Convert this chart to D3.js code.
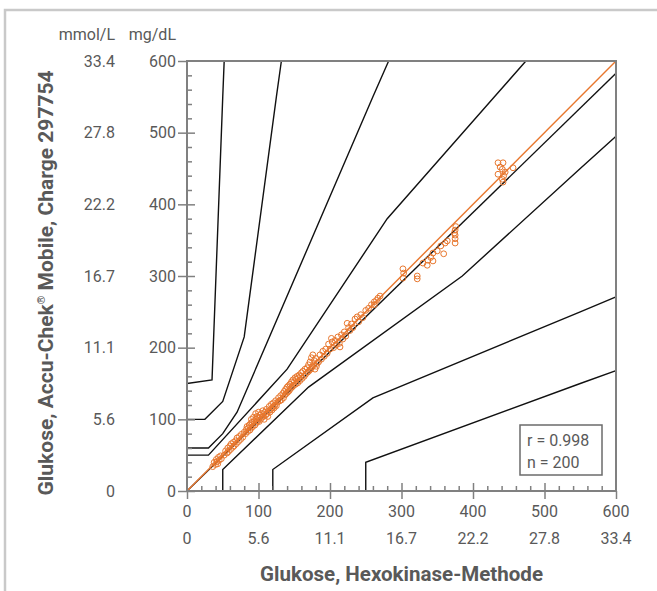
<!DOCTYPE html>
<html><head><meta charset="utf-8">
<script src="https://cdn.jsdelivr.net/npm/d3@7"></script>
<style>
html,body{margin:0;padding:0;background:#fff;}
text{font-family:Roboto,"Noto Sans",sans-serif;}
</style></head>
<body>
<svg id="c" width="657" height="591"></svg>
<script>
// ---- data ----
const majorTicks = [0, 100, 200, 300, 400, 500, 600];
const mgLabels = ["0", "100", "200", "300", "400", "500", "600"];
const mmolLabels = ["0", "5.6", "11.1", "16.7", "22.2", "27.8", "33.4"];

// reference (Hexokinase) values, mg/dL
const refValues = [
 36,38,40,41,42,44,45,47,48,43,
 52,54,56,57,58,60,61,62,64,65,66,68,69,70,72,73,75,76,78,80,
 82,83,84,85,86,87,88,89,90,90,91,92,93,94,95,96,96,97,98,99,
 100,100,101,102,103,104,105,106,107,108,109,110,111,112,113,114,115,116,117,118,
 119,120,121,122,123,124,125,127,128,130,
 131,132,134,135,136,137,138,139,140,141,142,143,144,145,146,147,148,149,150,151,
 152,153,154,155,156,157,158,159,160,161,162,164,165,166,168,169,170,171,172,173,
 174,175,176,177,178,179,180,181,182,184,
 186,188,190,192,194,196,198,200,202,203,205,207,209,211,213,214,216,218,220,222,
 224,226,228,230,232,235,238,240,243,246,250,254,258,262,267,
 302,302,303,322,322,336,337,341,344,344,359,361,364,375,375,375,375,376,374,330,
 350,355,270,262,265,
 435,442,441,435,443,441,442,456,438,445
];
// meter (Accu-Chek Mobile) values, mg/dL
const meterValues = [
 34,40,37,44,41,47,43,49,45,38,
 50,56,53,60,55,63,58,66,61,68,63,70,66,74,69,76,72,79,75,82,
 80,86,90,83,88,92,85,94,88,100,96,90,103,97,92,100,108,95,104,98,
 102,110,97,106,100,108,103,112,104,100,110,106,114,108,104,112,118,110,114,121,
 113,117,123,116,120,126,119,124,130,126,
 133,127,136,130,139,134,142,136,145,138,147,140,149,143,152,145,155,147,152,158,
 149,156,160,151,158,162,154,160,165,157,167,160,170,163,172,166,176,168,180,170,
 186,173,190,176,182,170,185,174,178,180,
 190,184,195,188,198,192,205,198,213,208,200,210,204,215,206,201,218,212,222,216,
 234,228,224,233,228,240,243,236,246,242,252,255,260,264,269,
 310,297,304,300,296,315,322,326,332,321,331,346,349,364,357,352,346,369,360,318,
 335,342,272,260,266,
 458,458,449,442,440,435,431,451,452,445
];

// error grid boundaries (reference, meter) in mg/dL
const gridAupper = [[0,50],[30,50],[140,170],[280,380],[430,550],[474,600]];
const gridAlower = [[50,0],[50,30],[170,145],[385,300],[550,450],[600,495]];
const gridBupper = [[0,60],[30,60],[50,80],[70,110],[260,550],[282,600]];
const gridBlower = [[120,0],[120,30],[260,130],[550,250],[600,271]];
const gridCupper = [[0,100],[25,100],[50,125],[80,215],[125,550],[132,600]];
const gridClower = [[250,0],[250,40],[550,150],[600,168]];
const gridDupper = [[0,150],[35,155],[50,550],[52,600]];
const identityLine = [[0,0],[600,600]];
const regressionLine = [[0,0],[600,583]];
const statsLines = ["r = 0.998", "n = 200"];

// ---- drawing ----
const svg = d3.select("#c");
const x = d3.scaleLinear().domain([0,600]).range([187,616]);
const y = d3.scaleLinear().domain([0,600]).range([491,61]);
const txt = "#595959", axisCol = "#808080", orange = "#e8772e";

// outer border
svg.append("rect").attr("x",5).attr("y",10).attr("width",700).attr("height",700)
  .attr("fill","none").attr("stroke","#c9c9c9").attr("stroke-width",2.5);

const line = d3.line().x(d=>x(d[0])).y(d=>y(d[1]));
const grids = [gridAupper,gridAlower,gridBupper,gridBlower,gridCupper,gridClower,gridDupper];
svg.append("g").selectAll("path").data(grids).join("path")
  .attr("d", line).attr("fill","none").attr("stroke","#111").attr("stroke-width",1.4);

svg.append("path").attr("d", line(regressionLine)).attr("fill","none")
  .attr("stroke","#111").attr("stroke-width",1.4);

// points
const pts = refValues.map((v,i)=>[v, meterValues[i]]);
svg.append("g").selectAll("circle").data(pts).join("circle")
  .attr("cx", d=>x(d[0])).attr("cy", d=>y(d[1])).attr("r", 2.9)
  .attr("fill","none").attr("stroke",orange).attr("stroke-width",1);

svg.append("path").attr("d", line(identityLine)).attr("fill","none")
  .attr("stroke",orange).attr("stroke-width",1.4);

// frame
svg.append("rect").attr("x",x(0)).attr("y",y(600)).attr("width",x(600)-x(0)).attr("height",y(0)-y(600))
  .attr("fill","none").attr("stroke",axisCol).attr("stroke-width",2);

// ticks
const minorTicks = d3.range(0,601,20).filter(v=>v%100!==0);
function tickStyle(g){ g.select(".domain").remove(); g.selectAll("line").attr("stroke",axisCol).attr("stroke-width",1.5); g.selectAll("text").remove(); }
svg.append("g").attr("transform",`translate(${x(0)},0)`)
  .call(d3.axisLeft(y).tickValues(majorTicks).tickSize(9)).call(tickStyle);
svg.append("g").attr("transform",`translate(${x(0)},0)`)
  .call(d3.axisRight(y).tickValues(majorTicks.slice(0,-1)).tickSize(8)).call(tickStyle);
svg.append("g").attr("transform",`translate(${x(0)},0)`)
  .call(d3.axisRight(y).tickValues(minorTicks).tickSize(5)).call(tickStyle);
svg.append("g").attr("transform",`translate(0,${y(0)})`)
  .call(d3.axisBottom(x).tickValues(majorTicks).tickSize(8)).call(tickStyle);
svg.append("g").attr("transform",`translate(0,${y(0)})`)
  .call(d3.axisTop(x).tickValues(majorTicks.slice(1,-1)).tickSize(8)).call(tickStyle);
svg.append("g").attr("transform",`translate(0,${y(0)})`)
  .call(d3.axisTop(x).tickValues(minorTicks).tickSize(5)).call(tickStyle);

// tick labels
const fs = "16px";
svg.append("g").selectAll("text").data(majorTicks).join("text")
  .attr("x",176).attr("y",d=>y(d)).attr("dy","0.36em").attr("text-anchor","end")
  .attr("font-size",fs).attr("fill",txt).text((d,i)=>mgLabels[i]);
svg.append("g").selectAll("text").data(majorTicks).join("text")
  .attr("x",115).attr("y",d=>y(d)).attr("dy","0.36em").attr("text-anchor","end")
  .attr("font-size",fs).attr("fill",txt).text((d,i)=>mmolLabels[i]);
svg.append("g").selectAll("text").data(majorTicks).join("text")
  .attr("x",d=>x(d)).attr("y",517).attr("text-anchor","middle")
  .attr("font-size",fs).attr("fill",txt).text((d,i)=>mgLabels[i]);
svg.append("g").selectAll("text").data(majorTicks).join("text")
  .attr("x",d=>x(d)).attr("y",544).attr("text-anchor","middle")
  .attr("font-size",fs).attr("fill",txt).text((d,i)=>mmolLabels[i]);

// unit headers
svg.append("text").attr("x",115).attr("y",40).attr("text-anchor","end").attr("font-size",fs).attr("fill",txt).text("mmol/L");
svg.append("text").attr("x",176).attr("y",40).attr("text-anchor","end").attr("font-size",fs).attr("fill",txt).text("mg/dL");

// axis titles
svg.append("text").attr("x",(x(0)+x(600))/2).attr("y",581).attr("text-anchor","middle")
  .attr("font-size","20px").attr("font-weight","bold").attr("fill",txt)
  .attr("textLength",283).attr("lengthAdjust","spacingAndGlyphs")
  .text("Glukose, Hexokinase-Methode");
const yt = svg.append("text").attr("transform",`translate(53,283) rotate(-90)`)
  .attr("text-anchor","middle").attr("font-size","21px").attr("font-weight","bold").attr("fill",txt);
yt.append("tspan").text("Glukose, Accu-Chek");
yt.append("tspan").attr("font-size","11px").attr("dy","-8").text("®");
yt.append("tspan").attr("dy","8").text(" Mobile, Charge 297754");

// stats box
svg.append("rect").attr("x",520).attr("y",425).attr("width",82).attr("height",50)
  .attr("fill","#fff").attr("stroke","#6b6b6b").attr("stroke-width",1.5);
svg.append("g").selectAll("text").data(statsLines).join("text")
  .attr("x",527).attr("y",(d,i)=>446+i*22).attr("font-size",fs).attr("fill",txt).text(d=>d);
</script>
</body></html>
